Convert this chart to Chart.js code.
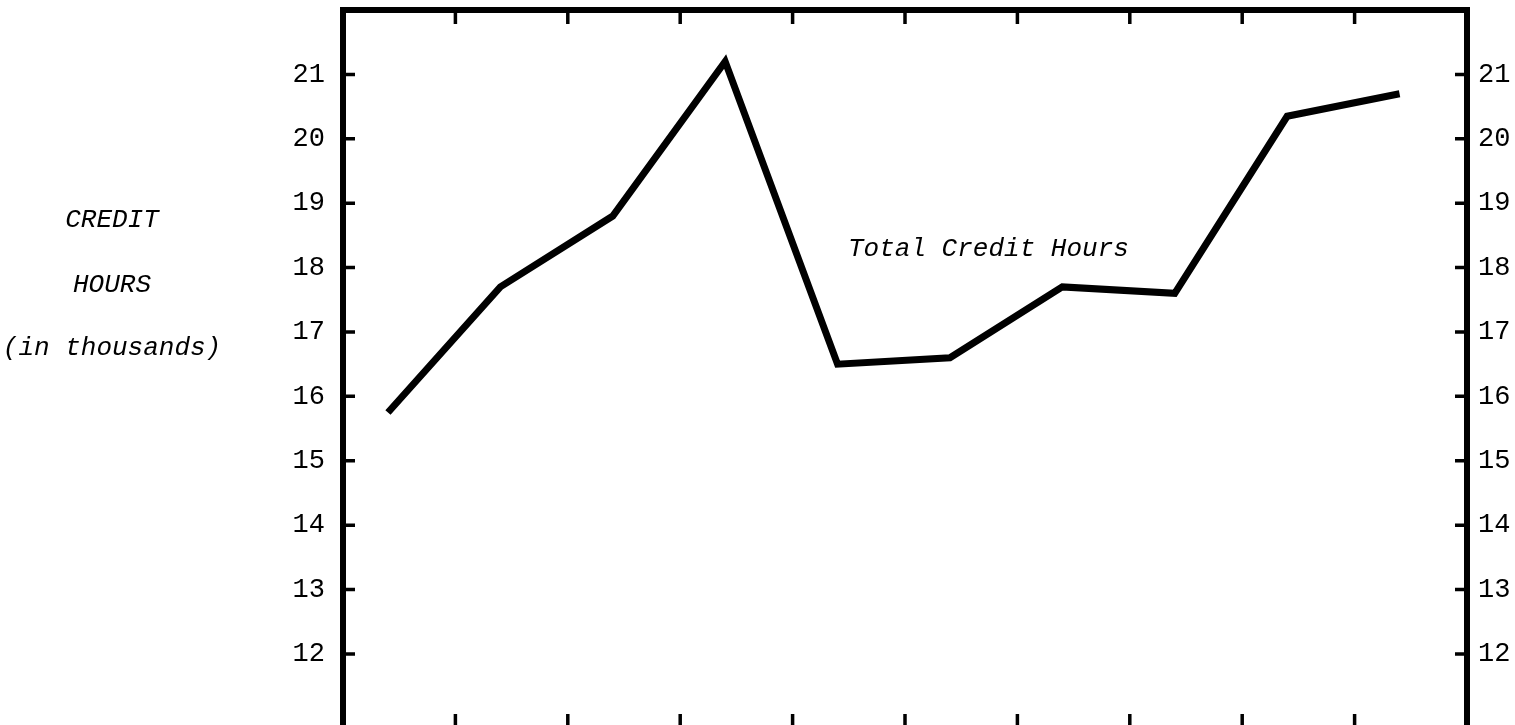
<!DOCTYPE html>
<html>
<head>
<meta charset="utf-8">
<script src="https://cdn.jsdelivr.net/npm/chart.js@4.4.1/dist/chart.umd.min.js"></script>
<style>
html,body{margin:0;padding:0;background:#fff;overflow:hidden;width:1515px;height:725px}
#wrap{position:absolute;left:0;top:0;width:1515px;height:735px}
</style>
</head>
<body>
<div id="wrap"><canvas id="c" width="1515" height="735"></canvas></div>
<script>
// ---- data ----
const periods = ['1', '2', '3', '4', '5', '6', '7', '8', '9', '10'];
const creditHours = [15.75, 17.7, 18.8, 21.2, 16.5, 16.6, 17.7, 17.6, 20.35, 20.7];
const yTickValues = [12, 13, 14, 15, 16, 17, 18, 19, 20, 21];
const seriesLabel = 'Total Credit Hours';
const axisTitleLines = ['CREDIT', 'HOURS', '(in thousands)'];

// ---- layout/style constants ----
const X_OFFSET = 0.4;          // where a point sits inside its period interval
const Y_MIN = 10.85, Y_MAX = 22;
const TXT_FONT = '"Liberation Mono", "DejaVu Sans Mono", monospace';

const points = periods.map((p, i) => ({ x: i, y: creditHours[i] }));
const xBoundaries = periods.slice(1).map((p, i) => i + 1 - X_OFFSET);

const framePlugin = {
  id: 'frame',
  afterDatasetsDraw(chart) {
    const { ctx, chartArea: a, scales } = chart;
    ctx.save();
    ctx.strokeStyle = '#000';
    ctx.lineCap = 'butt';
    ctx.lineWidth = 6;
    ctx.strokeRect(a.left, a.top, a.right - a.left, a.bottom - a.top);
    ctx.lineWidth = 3.5;
    ctx.beginPath();
    xBoundaries.forEach(v => {
      const px = scales.x.getPixelForValue(v);
      ctx.moveTo(px, a.top); ctx.lineTo(px, a.top + 14);
      ctx.moveTo(px, a.bottom); ctx.lineTo(px, a.bottom - 14);
    });
    yTickValues.forEach(v => {
      const py = scales.y.getPixelForValue(v);
      ctx.moveTo(a.left, py); ctx.lineTo(a.left + 12, py);
      const py2 = scales.y2.getPixelForValue(v);
      ctx.moveTo(a.right, py2); ctx.lineTo(a.right - 12, py2);
    });
    ctx.stroke();

    ctx.fillStyle = '#000';
    ctx.font = 'italic 26px ' + TXT_FONT;
    ctx.textBaseline = 'middle';
    ctx.textAlign = 'center';
    const titleY = [220, 285, 348];
    axisTitleLines.forEach((t, i) => ctx.fillText(t, 112, titleY[i]));
    ctx.textAlign = 'left';
    ctx.fillText(seriesLabel, 848, 249);
    ctx.restore();
  }
};

function fixWidth(w) {
  return function (scale) {
    scale.width = w;
    scale.paddingTop = 0;
    scale.paddingBottom = 0;
  };
}

const yCommon = {
  type: 'linear',
  min: Y_MIN,
  max: Y_MAX,
  grid: { display: false, drawTicks: false },
  border: { display: false },
  afterBuildTicks(scale) { scale.ticks = yTickValues.map(v => ({ value: v })); },
  ticks: {
    color: '#000',
    font: { family: TXT_FONT, size: 27 },
    padding: 18,
    callback: v => String(v)
  }
};

new Chart(document.getElementById('c'), {
  type: 'line',
  data: {
    datasets: [{
      label: seriesLabel,
      data: points,
      borderColor: '#000',
      borderWidth: 7,
      borderJoinStyle: 'miter',
      borderCapStyle: 'butt',
      pointRadius: 0,
      tension: 0,
      fill: false,
      yAxisID: 'y'
    }]
  },
  options: {
    responsive: false,
    animation: false,
    layout: { padding: { top: 10, bottom: 7, left: 0, right: 0 } },
    plugins: { legend: { display: false }, tooltip: { enabled: false } },
    scales: {
      x: { type: 'linear', display: false, min: -X_OFFSET, max: periods.length - X_OFFSET },
      y: Object.assign({}, yCommon, {
        position: 'left',
        afterFit: fixWidth(343)
      }),
      y2: Object.assign({}, yCommon, {
        position: 'right',
        ticks: Object.assign({}, yCommon.ticks, { padding: 11 }),
        afterFit: fixWidth(48)
      })
    }
  },
  plugins: [framePlugin]
});
</script>
</body>
</html>
